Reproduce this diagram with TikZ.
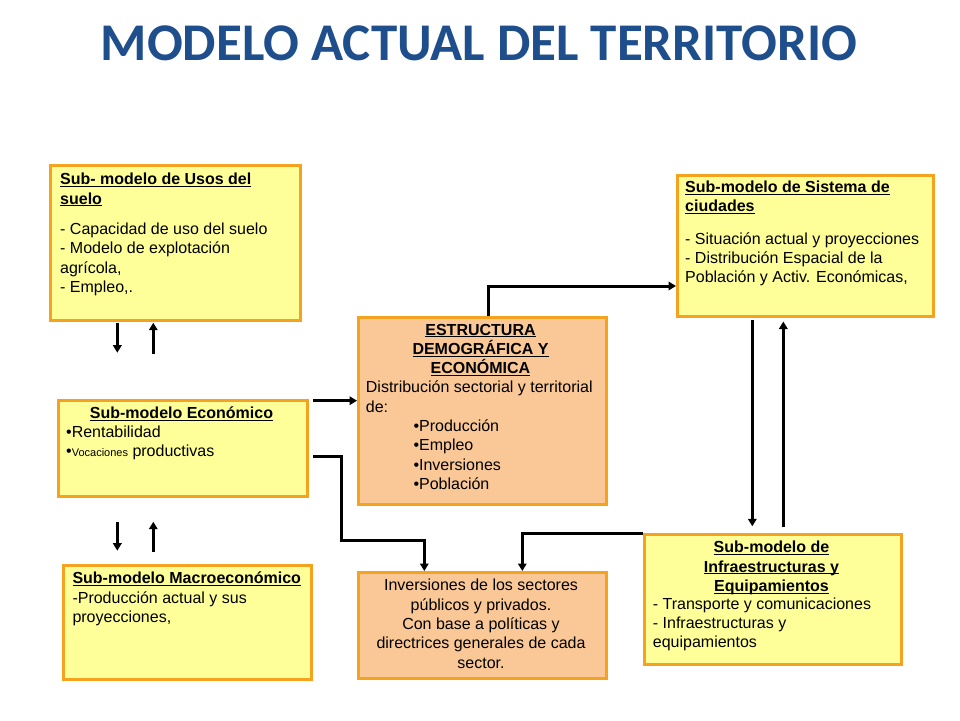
\documentclass[tikz,border=0pt]{standalone}
\usepackage{fontspec}
\setmainfont{Liberation Sans}
\newfontfamily\titlefont{Carlito}
\usetikzlibrary{arrows.meta}
\definecolor{boxyellow}{RGB}{255,255,153}
\definecolor{boxpeach}{RGB}{250,200,150}
\definecolor{boxorange}{RGB}{245,163,30}
\definecolor{titleblue}{RGB}{31,78,140}
\newsavebox\myulbox
\newcommand\myul[1]{\sbox\myulbox{#1}\rlap{\rule[-2.2pt]{\wd\myulbox}{1pt}}\usebox\myulbox}
\newcommand\tstrut{\rule{0pt}{12pt}}
\begin{document}
\begin{tikzpicture}[x=1pt,y=-1pt,
  box/.style={draw=boxorange, line width=3pt, fill=boxyellow, inner sep=0pt, anchor=north west},
  pbox/.style={box, fill=boxpeach},
  txt/.style={inner sep=0pt, anchor=north west, align=left, font=\fontsize{16}{19.3}\selectfont},
  ctxt/.style={txt, anchor=north, align=center},
  arr/.style={line width=3pt, -{Triangle[length=7.5pt,width=8.5pt]}}
]
\useasboundingbox (0,0) rectangle (960,720);
\fill[white] (0,0) rectangle (960,720);

% title
\node[font=\titlefont\bfseries\fontsize{53}{60}\selectfont, text=titleblue, anchor=base, inner sep=0pt] (title) at (479,60) {MODELO ACTUAL DEL TERRITORIO};

% boxes
\node[box, minimum width=250, minimum height=155] (usos) at (49,164) {};
\node[box, minimum width=249, minimum height=96] (econ) at (57,399) {};
\node[box, minimum width=248, minimum height=114] (macro) at (62,564) {};
\node[pbox, minimum width=248, minimum height=187] (estr) at (357,316) {};
\node[pbox, minimum width=248, minimum height=106] (inv) at (357,571) {};
\node[box, minimum width=256, minimum height=141] (ciud) at (676,173.5) {};
\node[box, minimum width=257.5, minimum height=130] (infra) at (642.5,533.3) {};

% texts
\node[txt] (usosT) at (60,172.5) {\tstrut\textbf{\myul{Sub- modelo de Usos del}}\\\textbf{\myul{suelo}}\\[11.2pt]- Capacidad de uso del suelo\\- Modelo de explotación\\agrícola,\\- Empleo,.};

\node[ctxt] (econT) at (181.5,406.3) {\tstrut\textbf{\myul{Sub-modelo Económico}}};
\node[txt] (econB) at (66,425.3) {\tstrut•Rentabilidad\\•{\fontsize{11}{13}\selectfont Vocaciones} productivas};

\node[txt] (macroT) at (72.3,571.5) {\tstrut\textbf{\myul{Sub-modelo Macroeconómico}}\\-Producción actual y sus\\proyecciones,};

\node[ctxt] (estrT) at (480.5,323) {\tstrut\textbf{\myul{ESTRUCTURA}}\\\textbf{\myul{DEMOGRÁFICA Y}}\\\textbf{\myul{ECONÓMICA}}};
\node[txt] (estrB) at (365.7,380.7) {\tstrut Distribución sectorial y territorial\\de:\\\hspace*{47.6pt}•Producción\\\hspace*{47.6pt}•Empleo\\\hspace*{47.6pt}•Inversiones\\\hspace*{47.6pt}•Población};

\node[ctxt] (invT) at (481,578.7) {\tstrut Inversiones de los sectores\\públicos y privados.\\Con base a políticas y\\directrices generales de cada\\sector.};

\node[txt] (ciudT) at (685,180.3) {\tstrut\textbf{\myul{Sub-modelo de Sistema de}}\\\textbf{\myul{ciudades}}\\[13pt]- Situación actual y proyecciones\\- Distribución Espacial de la\\Población y Activ. Económicas,};

\node[ctxt] (infraT) at (771.5,540.7) {\tstrut\textbf{\myul{Sub-modelo de}}\\\textbf{\myul{Infraestructuras y}}\\\textbf{\myul{Equipamientos}}};
\node[txt] (infraB) at (652.7,597) {\tstrut- Transporte y comunicaciones\\- Infraestructuras y\\equipamientos};

% helper coordinates
\coordinate (yA) at (0,400.7);
\coordinate (yB) at (0,456.7);
\coordinate (xB1) at (341.7,0);
\coordinate (yB2) at (0,540);
\coordinate (xB3) at (424.3,0);
\coordinate (xC) at (522.3,0);
\coordinate (xD) at (488.3,0);
\coordinate (yD) at (0,286);
\coordinate (xF) at (752.3,0);
\coordinate (xG) at (783.3,0);
\coordinate (u1) at (117.3,322.7);
\coordinate (u2) at (117.3,352.7);
\coordinate (u3) at (153.3,354);
\coordinate (u4) at (153.3,322.7);
\coordinate (m1) at (117.3,521.7);
\coordinate (m2) at (117.3,550.7);
\coordinate (m3) at (153.3,551.7);
\coordinate (m4) at (153.3,521.7);

% connectors
\draw[arr] (u1) -- (u2);
\draw[arr] (u3) -- (u4);
\draw[arr] (m1) -- (m2);
\draw[arr] (m3) -- (m4);
\draw[arr, shorten <=4pt] (econ.east |- yA) -- (estr.west |- yA);
\draw[arr, shorten <=4pt] (econ.east |- yB) -| (xB1 |- yB2) -| (inv.north -| xB3);
\draw[arr] (infra.north west) -| (inv.north -| xC);
\draw[arr] (estr.north -| xD) |- (ciud.west |- yD);
\draw[arr, shorten <=2pt, shorten >=7pt] (ciud.south -| xF) -- (infra.north -| xF);
\draw[arr, shorten <=6pt, shorten >=4pt] (infra.north -| xG) -- (ciud.south -| xG);
\end{tikzpicture}
\end{document}
